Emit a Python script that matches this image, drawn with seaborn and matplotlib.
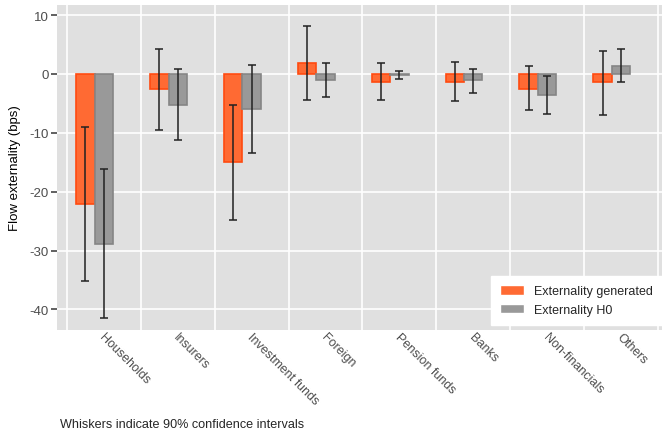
import numpy as np
import pandas as pd
import matplotlib
matplotlib.use("Agg")
import matplotlib.pyplot as plt
import matplotlib.transforms as mtransforms
import seaborn as sns

categories = ["Households", "Insurers", "Investment funds", "Foreign",
              "Pension funds", "Banks", "Non-financials", "Others"]
series = ["Externality generated", "Externality H0"]

generated = [-22.1, -2.6, -15.0, 1.8, -1.4, -1.4, -2.5, -1.4]
generated_lo = [-35.2, -9.5, -24.8, -4.4, -4.4, -4.6, -6.2, -6.9]
generated_hi = [-9.0, 4.2, -5.2, 8.2, 1.8, 2.0, 1.3, 3.9]

h0 = [-28.9, -5.2, -6.0, -1.0, -0.2, -1.1, -3.6, 1.3]
h0_lo = [-41.5, -11.3, -13.4, -3.9, -0.8, -3.2, -6.8, -1.4]
h0_hi = [-16.2, 0.9, 1.5, 1.8, 0.5, 0.9, -0.4, 4.2]

df = pd.DataFrame({
    "sector": categories * 2,
    "series": [series[0]] * len(categories) + [series[1]] * len(categories),
    "value": generated + h0,
})

sns.set_theme(style="darkgrid")
plt.rcParams["font.family"] = ["Liberation Sans", "DejaVu Sans"]
plt.rcParams["axes.unicode_minus"] = False

fig = plt.figure(figsize=(6.62, 4.31), dpi=100)
ax = fig.add_axes([57 / 662, 100 / 431, 605 / 662, 325 / 431])
ax.set_facecolor("#E0E0E0")

sns.barplot(data=df, x="sector", y="value", hue="series", order=categories,
            hue_order=series, palette=["#FF6A33", "#999999"], width=0.5,
            saturation=1, errorbar=None, ax=ax, zorder=2)

edge_cols = ["#FF4A10", "#858585"]
los = [generated_lo, h0_lo]
his = [generated_hi, h0_hi]
bar_groups = list(ax.containers)
for k, cont in enumerate(bar_groups):
    for i, bar in enumerate(cont.patches):
        bar.set_edgecolor(edge_cols[k])
        bar.set_linewidth(1.2)
        xc = bar.get_x() + bar.get_width() / 2
        val = bar.get_height()
        ax.errorbar(xc, val, yerr=[[val - los[k][i]], [his[k][i] - val]],
                    fmt="none", ecolor="#222222", elinewidth=1.3, capsize=3,
                    capthick=1.3, alpha=0.85, zorder=3)

ax.set_xlim(-0.51, 7.68)
ax.set_ylim(-43.5, 11.7)
ax.set_yticks([10, 0, -10, -20, -30, -40])
ax.set_xticks(range(len(categories)))
ax.tick_params(axis="x", length=0, pad=4)
ax.tick_params(axis="y", length=4, color="#4D4D4D", labelcolor="#4D4D4D",
               labelsize=9.5, left=True, pad=2)
ax.set_xticklabels(categories, rotation=-45, ha="left", va="top",
                   rotation_mode="anchor", color="#4D4D4D", fontsize=9)
# nudge the rotated labels right/up to sit like the original
shift = mtransforms.ScaledTranslation(11 / 100, 5 / 100, fig.dpi_scale_trans)
for lab in ax.get_xticklabels():
    lab.set_transform(lab.get_transform() + shift)

ax.grid(False)
ax.set_axisbelow(True)
for y in [10, 0, -10, -20, -30, -40]:
    ax.axhline(y, color="white", lw=1.2, zorder=0)
for x in np.arange(-0.375, 8, 1):
    ax.axvline(x, color="white", lw=1.2, zorder=0)
for s in ax.spines.values():
    s.set_visible(False)

ax.set_xlabel("")
ax.set_ylabel("Flow externality (bps)", fontsize=9.5, color="black", labelpad=6)

leg = ax.legend(loc="lower right", bbox_to_anchor=(1.0, 5 / 325),
                frameon=True, fancybox=False, framealpha=1, edgecolor="white",
                fontsize=9, borderpad=0.75, borderaxespad=0, handlelength=1.9,
                handleheight=0.75, handletextpad=0.8, labelspacing=0.5)
leg.get_frame().set_facecolor("white")

fig.text(60 / 662, 1 - 425 / 431, "Whiskers indicate 90% confidence intervals",
         fontsize=9.1, va="center", ha="left")

fig.savefig("out.png", dpi=100)
